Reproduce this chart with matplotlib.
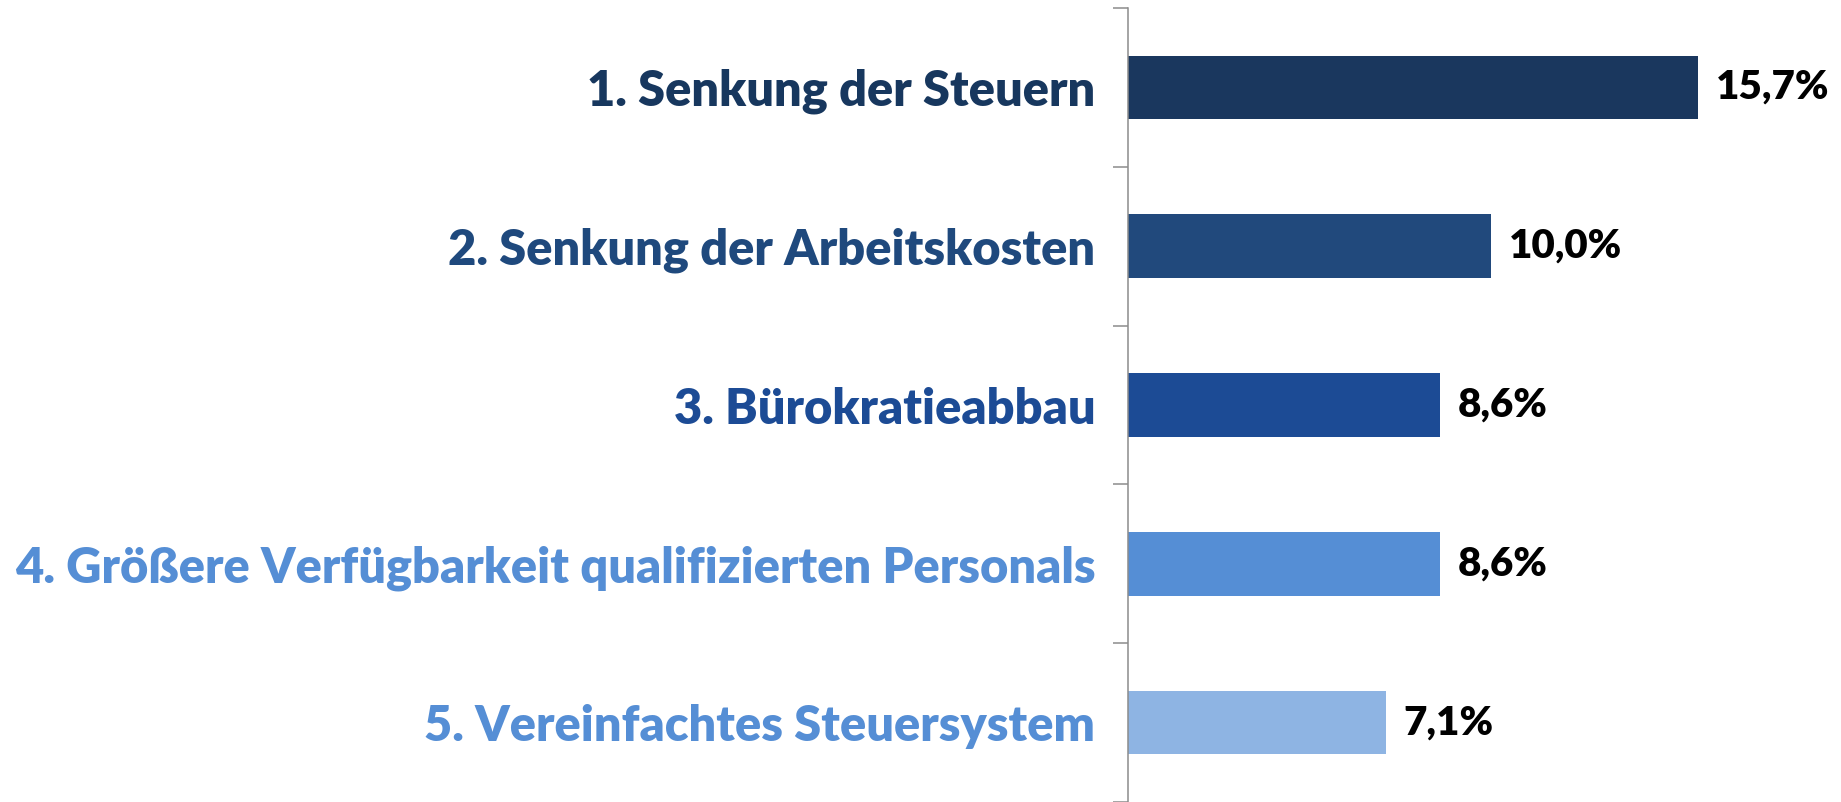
import matplotlib
matplotlib.use("Agg")
import matplotlib.pyplot as plt
from matplotlib.ticker import FixedLocator

categories = [
    "1. Senkung der Steuern",
    "2. Senkung der Arbeitskosten",
    "3. Bürokratieabbau",
    "4. Größere Verfügbarkeit qualifizierten Personals",
    "5. Vereinfachtes Steuersystem",
]
values = [15.7, 10.0, 8.6, 8.6, 7.1]
value_labels = ["15,7%", "10,0%", "8,6%", "8,6%", "7,1%"]
bar_colors = ["#1A375E", "#21497C", "#1C4B95", "#558ED5", "#8EB4E3"]
label_colors = ["#17375E", "#1F497D", "#1C4B95", "#558ED5", "#558ED5"]

FONT = "Lato"
CAT_WEIGHT = "heavy"
VAL_WEIGHT = "heavy"
W, H, DPI = 18.41, 8.02, 100
fig = plt.figure(figsize=(W, H), dpi=DPI)
ax = fig.add_axes([1128 / 1841, 0.0, 1 - 1128 / 1841, 1 - 8 / 802])

pos = list(range(len(categories)))
ax.barh(pos, values, height=0.40, color=bar_colors, zorder=2)
ax.set_ylim(len(categories) - 0.5, -0.5)
ax.set_xlim(0, (1841 - 1128) / 36.3)

for s in ["top", "right", "bottom"]:
    ax.spines[s].set_visible(False)
ax.spines["left"].set_color("#8C8C8C")
ax.spines["left"].set_linewidth(1.1)
ax.set_xticks([])

ax.set_yticks(pos)
ax.yaxis.set_minor_locator(FixedLocator([i - 0.5 for i in range(len(categories) + 1)]))
ax.tick_params(axis="y", which="major", length=0, pad=23.5)
ax.tick_params(axis="y", which="minor", length=10.8, width=1.1, color="#8C8C8C", direction="out")


def fit_size(text, weight, target_px):
    probe = fig.text(0, 0, text, fontsize=40, fontweight=weight, family=FONT)
    fig.canvas.draw()
    w = probe.get_window_extent().width
    probe.remove()
    return 40 * target_px / w


fs = fit_size(categories[3], CAT_WEIGHT, 1081)
vfs = fit_size(value_labels[0], VAL_WEIGHT, 113)

ax.set_yticklabels(categories, fontsize=fs, fontweight=CAT_WEIGHT, family=FONT)
for t, c in zip(ax.get_yticklabels(), label_colors):
    t.set_color(c)

for p, v, lab in zip(pos, values, value_labels):
    ax.annotate(lab, xy=(v, p), xytext=(13, 0), textcoords="offset points",
                ha="left", va="center", fontsize=vfs, fontweight=VAL_WEIGHT,
                family=FONT, color="black")

fig.savefig("out.png", dpi=DPI, facecolor="white")
